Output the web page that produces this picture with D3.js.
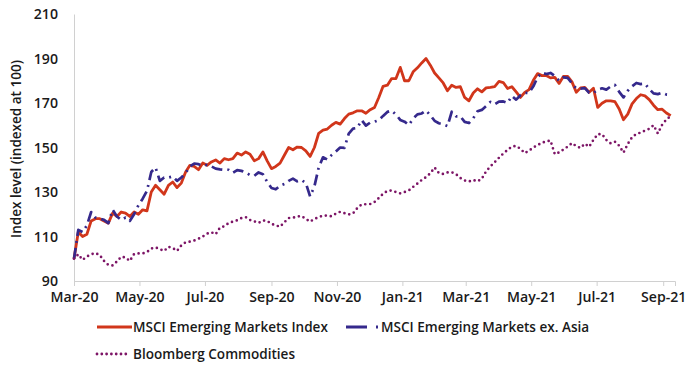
<!DOCTYPE html>
<html><head><meta charset="utf-8">
<script src="https://cdn.jsdelivr.net/npm/d3@7"></script>
<style>body{margin:0;background:#fff} svg text{font-family:"Open Sans",sans-serif}</style>
</head><body><svg id="c" width="700" height="368"></svg>
<script>
// ---- data (sampled every 4 calendar days from start date) ----
const startDate = "2020-03-23";
const stepDays = 4;
const emIndex = [100,112,110,111,117,118,118,117,116,120.5,119,121,120.5,119,121,120,122,121.5,130,133,
131,129,133,134.5,132,134,139,142,141.5,140,143,142,143.5,144.4,143,145,144.5,145,147.5,146.6,
148,147,144,145,148,144,140.5,141.5,143,146.5,150,149,150.2,150,148.5,146,150,156.4,157.8,158.3,
160,161.3,160.5,163,165,165.6,166.5,166.5,165.4,167,168,172.5,177.5,178,181,181,186,180,180,184,
185.8,188,190,187,183.5,181.3,179,175.5,178,177,177.3,172.5,171,174.5,176.4,175,176.8,177,177.4,179.7,
179.2,176.5,177.3,175,172.5,174.8,176,180.2,183.2,182.3,182.4,181.3,181.5,178.8,181.9,182,179.5,174.8,176.8,177,
174.8,176.6,168,169.9,171,171,170.6,167.3,162.5,165,169.6,172,173.7,173.2,171.5,169,167,167.2,165.5,164.3];
const emExAsia = [100,113,112,115,121,118.5,118,117.5,116,122,119,117.4,118.5,117,120,124,127,130.5,139,141,
135,136.5,136.5,137,135,136.5,138.5,141.5,142.8,142.5,141.8,142.2,141.5,140.5,140.2,140,140,138.6,139.8,139.5,
138.8,137.6,137.3,138.8,138,134.5,131.8,131.2,132.8,133.6,135,136,134.8,135.4,134,128,132.5,141,145.6,144.6,
146.6,148.2,150,149.8,156.2,158.5,158.8,162.3,159.8,161.2,161.6,162.3,164.2,166,166.6,164.8,162.4,161.6,160.1,163,
164.9,165.3,166.6,164.5,162,160.9,160.4,159.6,166.1,164,164,161.5,161,163.1,166.3,166.9,168.6,170.5,169.4,170.6,
170.7,170,173.2,171.5,173.5,174.6,174.5,177.5,181.6,183.6,183,183.5,182.1,180,181.5,181.3,178.8,176.5,176.5,176.7,
174.6,174.5,176,176.6,176,177.4,178.1,175,172.5,175.5,177.5,179,178.5,178.7,176.3,174.3,174,174.6,173.8,173.6];
const commodities = [100,102,99.5,101,102,102.6,101.6,99,97.2,97,98.8,100.9,100.6,99,102.1,102.4,102.4,103,104.6,105.1,
104.3,103.5,105.4,104.8,103.5,106,107.4,107.7,108.2,109,110,111.3,111.9,111,114,114.6,116,116.7,117.3,118.3,
118.7,117.4,116.8,116.1,117.2,117,115.7,115,114.4,116.4,118.3,118.4,119,119.2,117.9,116.7,117.9,118.7,119.4,119.4,
119.1,120.3,121.1,120.5,119.9,120.4,122.8,124.4,124.5,124.6,125.5,127.3,129.2,130.5,130.7,130,129.4,130,130.7,132.3,
133.8,135.4,136.7,138.4,141,138.5,138.1,138.8,138.9,138,136.3,135.2,134.7,135.4,134.8,136,139.3,141.5,143.4,145.4,
147.3,148.9,150.4,150.7,149.4,147.5,148.6,150,151.1,152.1,152.8,153.1,147,147.8,149.1,150.4,152,150.6,149.8,151.7,
150.3,153.4,156,156,153.4,151.9,152.6,150.8,147.7,151.6,154.6,156.1,156.7,157.6,158.4,160,156.3,160.2,162.6,164.1];
const yTicks = [90,110,130,150,170,190,210];
const xTickDates = ["2020-03-23","2020-05-23","2020-07-23","2020-09-23","2020-11-23","2021-01-23","2021-03-23","2021-05-23","2021-07-23","2021-09-23"];
const xTickLabels = ["Mar-20","May-20","Jul-20","Sep-20","Nov-20","Jan-21","Mar-21","May-21","Jul-21","Sep-21"];
const seriesNames = ["MSCI Emerging Markets Index","MSCI Emerging Markets ex. Asia","Bloomberg Commodities"];
const seriesColors = ["#d1361b","#35298c","#7d1566"];
const yTitle = "Index level (indexed at 100)";

// ---- drawing ----
const svg = d3.select("#c");
const parse = d3.utcParse("%Y-%m-%d");
const t0 = parse(startDate);
const dates = emIndex.map((_, i) => d3.utcDay.offset(t0, i * stepDays));
const x = d3.scaleUtc().domain([t0, parse("2021-10-04")]).range([74, 675]);
const y = d3.scaleLinear().domain([90, 210]).range([281, 14]);

// fit a font size so a sample text reaches a target width
function fitSize(str, target) {
  const t = svg.append("text").attr("font-size", 20).attr("font-weight", 600).text(str);
  const w = t.node().getComputedTextLength();
  t.remove();
  return 20 * target / w;
}
const FS_LEG = fitSize(seriesNames[0], 195);
const FS_TICK = fitSize("Mar-20", 48);
const FS_TITLE = fitSize(yTitle, 178);

// axes
const xAxis = svg.append("g").attr("transform", "translate(0,281)")
  .call(d3.axisBottom(x).tickValues(xTickDates.map(parse)).tickSize(5)
    .tickFormat((d, i) => xTickLabels[i]));
xAxis.select(".domain").attr("stroke", "#d0d0d0");
xAxis.selectAll(".tick line").attr("stroke", "#d0d0d0");
xAxis.selectAll(".tick text").attr("fill", "#1a1a1a").attr("font-size", FS_TICK).attr("font-weight", 600).attr("dy", "0.95em");

const yAxis = svg.append("g").attr("transform", "translate(74,0)")
  .call(d3.axisLeft(y).tickValues(yTicks).tickSize(0).tickPadding(16));
yAxis.select(".domain").attr("stroke", "#d0d0d0");
yAxis.selectAll(".tick text").attr("fill", "#1a1a1a").attr("font-size", FS_TICK).attr("font-weight", 600);

svg.append("text").attr("transform", "translate(21,149) rotate(-90)")
  .attr("text-anchor", "middle").attr("font-size", FS_TITLE).attr("font-weight", 600).attr("fill", "#1a1a1a")
  .text(yTitle);

const line = d3.line().x((d, i) => x(dates[i])).y(d => y(d));
const styles = [
  {w: 2.8, dash: null, cap: "butt"},
  {w: 2.7, dash: "11,5,2,5", cap: "butt"},
  {w: 2.7, dash: "0,5", cap: "round"}
];
[emIndex, emExAsia, commodities].forEach((s, k) => {
  svg.append("path").datum(s).attr("d", line).attr("fill", "none")
    .attr("stroke", seriesColors[k]).attr("stroke-width", styles[k].w)
    .attr("stroke-linejoin", "round").attr("stroke-linecap", styles[k].cap)
    .attr("stroke-dasharray", styles[k].dash);
});

// legend
const leg = [
  {x1: 97, x2: 132, y: 327, tx: 133},
  {x1: 346, x2: 378, y: 327, tx: 381},
  {x1: 97, x2: 127, y: 354, tx: 133}
];
const legDash = [null, "21,9,2,9", "0,4.8"];
leg.forEach((l, k) => {
  svg.append("line").attr("x1", l.x1).attr("x2", l.x2).attr("y1", l.y).attr("y2", l.y)
    .attr("stroke", seriesColors[k]).attr("stroke-width", 2.8)
    .attr("stroke-linecap", k === 2 ? "round" : "butt").attr("stroke-dasharray", legDash[k]);
  svg.append("text").attr("x", l.tx).attr("y", l.y).attr("dy", "0.35em")
    .attr("font-size", FS_LEG).attr("font-weight", 600).attr("fill", "#1a1a1a").text(seriesNames[k]);
});
</script></body></html>
